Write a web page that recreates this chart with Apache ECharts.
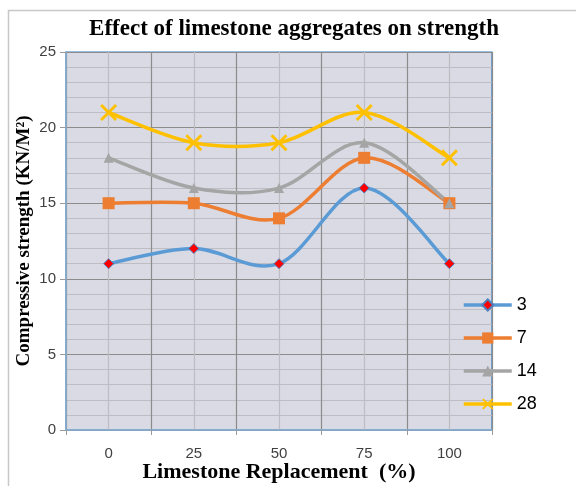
<!DOCTYPE html>
<html>
<head>
<meta charset="utf-8">
<script src="https://cdn.jsdelivr.net/npm/echarts@6/dist/echarts.min.js"></script>
<style>
html,body{margin:0;padding:0;background:#fff;}
#c{width:576px;height:486px;}
</style>
</head>
<body>
<div id="c"></div>
<script>
const categories = ['0', '25', '50', '75', '100'];
const s3 = [11, 12, 11, 16, 11];
const s7 = [15, 15, 14, 18, 15];
const s14 = [18, 16, 16, 19, 15];
const s28 = [21, 19, 19, 21, 18];
const seriesNames = ['3', '7', '14', '28'];

const colors = ['#5b9bd5', '#ed7d31', '#a5a5a5', '#ffc000'];
const allValues = [s3, s7, s14, s28];
const xMark = 'path://M0,1.2 L1.2,0 L10,8.8 L8.8,10 Z M8.8,0 L10,1.2 L1.2,10 L0,8.8 Z';
const LW = 3.5;

// Excel-like (Catmull-Rom) smoothing drawn through the axis scales
function curveRenderer(values, color) {
  const n = values.length;
  return function (params, api) {
    const i = params.dataIndex;
    if (i >= n - 1) return null;
    const P = k => { const j = Math.max(0, Math.min(n - 1, k)); return api.coord([j, values[j]]); };
    const p0 = P(i - 1), p1 = P(i), p2 = P(i + 1), p3 = P(i + 2);
    return {
      type: 'bezierCurve',
      shape: {
        x1: p1[0], y1: p1[1], x2: p2[0], y2: p2[1],
        cpx1: p1[0] + (p2[0] - p0[0]) / 6, cpy1: p1[1] + (p2[1] - p0[1]) / 6,
        cpx2: p2[0] - (p3[0] - p1[0]) / 6, cpy2: p2[1] - (p3[1] - p1[1]) / 6
      },
      style: { stroke: color, lineWidth: LW, fill: null, lineCap: 'round' }
    };
  };
}

const curveSeries = allValues.map((vals, k) => ({
  name: 'curve' + seriesNames[k], type: 'custom', silent: true,
  data: vals.map((v, i) => [i, v]),
  renderItem: curveRenderer(vals, colors[k]),
  z: 2
}));

const markerDefs = [
  { symbol: 'diamond', size: 10, fill: '#ff0000', border: '#4f81bd', bw: 1 },
  { symbol: 'rect', size: 12, fill: '#ed7d31', border: '#ed7d31', bw: 0 },
  { symbol: 'triangle', size: 10, fill: '#a5a5a5', border: '#a5a5a5', bw: 0 },
  { symbol: xMark, size: 17, fill: '#ffc000', border: '#ffc000', bw: 0 }
];

const markerSeries = allValues.map((vals, k) => ({
  name: seriesNames[k], type: 'line', data: vals,
  symbol: markerDefs[k].symbol, symbolSize: markerDefs[k].size, showSymbol: true,
  lineStyle: { color: colors[k], width: LW, opacity: 0 },
  itemStyle: { color: markerDefs[k].fill, borderColor: markerDefs[k].border, borderWidth: markerDefs[k].bw },
  z: 3
}));

const chart = echarts.init(document.getElementById('c'));
chart.setOption({
  animation: false,
  backgroundColor: '#fff',
  graphic: [{
    type: 'rect', z: -10,
    shape: { x: 8.5, y: 10.5, width: 700, height: 700 },
    style: { fill: 'none', stroke: '#c8c8c8', lineWidth: 1.5 }
  }],
  title: {
    text: 'Effect of limestone aggregates on strength',
    left: 289, top: 13, textAlign: 'center',
    textStyle: { fontFamily: 'Liberation Serif', fontWeight: 'bold', fontSize: 23, color: '#000' }
  },
  legend: {
    orient: 'vertical',
    left: 457, top: 291,
    itemWidth: 48, itemHeight: 14, itemGap: 15,
    textStyle: { fontFamily: 'Liberation Sans', fontSize: 18, color: '#000' },
    data: seriesNames.map((nm, k) => ({ name: nm, lineStyle: { color: colors[k], width: LW, opacity: 1 } }))
  },
  grid: {
    left: 66, right: 84, top: 52, bottom: 56,
    outerBoundsMode: 'none', containLabel: false,
    show: true, backgroundColor: '#d9dae3',
    borderColor: '#2e7cc0', borderWidth: 1.2
  },
  xAxis: [{
    type: 'category',
    data: categories,
    boundaryGap: true,
    name: 'Limestone Replacement  (%)',
    nameLocation: 'middle', nameGap: 31, nameMoveOverlap: false,
    nameTextStyle: { fontFamily: 'Liberation Serif', fontWeight: 'bold', fontSize: 22, color: '#000' },
    axisLine: { lineStyle: { color: '#86aed3', width: 1.5 } },
    axisTick: { show: true, length: 5, lineStyle: { color: '#9a9a9a' } },
    axisLabel: { fontFamily: 'Liberation Sans', fontSize: 15, color: '#404040', margin: 16 },
    splitLine: { show: false }
  }, {
    type: 'value', min: 0, max: 10, interval: 2,
    position: 'bottom', show: true,
    axisLine: { show: false }, axisTick: { show: false }, axisLabel: { show: false },
    splitLine: { show: true, lineStyle: { color: '#8c8c8c', width: 1.2 } },
    minorTick: { show: false, splitNumber: 2 },
    minorSplitLine: { show: true, lineStyle: { color: '#bdbdc3', width: 1.2 } }
  }],
  yAxis: {
    type: 'value', min: 0, max: 25, interval: 5,
    name: 'Compressive strength (KN/M²)',
    nameLocation: 'middle', nameGap: 32, nameMoveOverlap: false,
    nameTextStyle: { fontFamily: 'Liberation Serif', fontWeight: 'bold', fontSize: 19, color: '#000' },
    axisLine: { show: true, lineStyle: { color: '#86aed3', width: 1.5 } },
    axisTick: { show: true, length: 6, lineStyle: { color: '#9a9a9a' } },
    axisLabel: { fontFamily: 'Liberation Sans', fontSize: 15, color: '#404040', margin: 10 },
    splitLine: { show: true, lineStyle: { color: '#8c8c8c', width: 1.2 } },
    minorTick: { show: false, splitNumber: 5 },
    minorSplitLine: { show: true, lineStyle: { color: '#bdbdc3', width: 1 } }
  },
  series: curveSeries.concat(markerSeries)
});
</script>
</body>
</html>
